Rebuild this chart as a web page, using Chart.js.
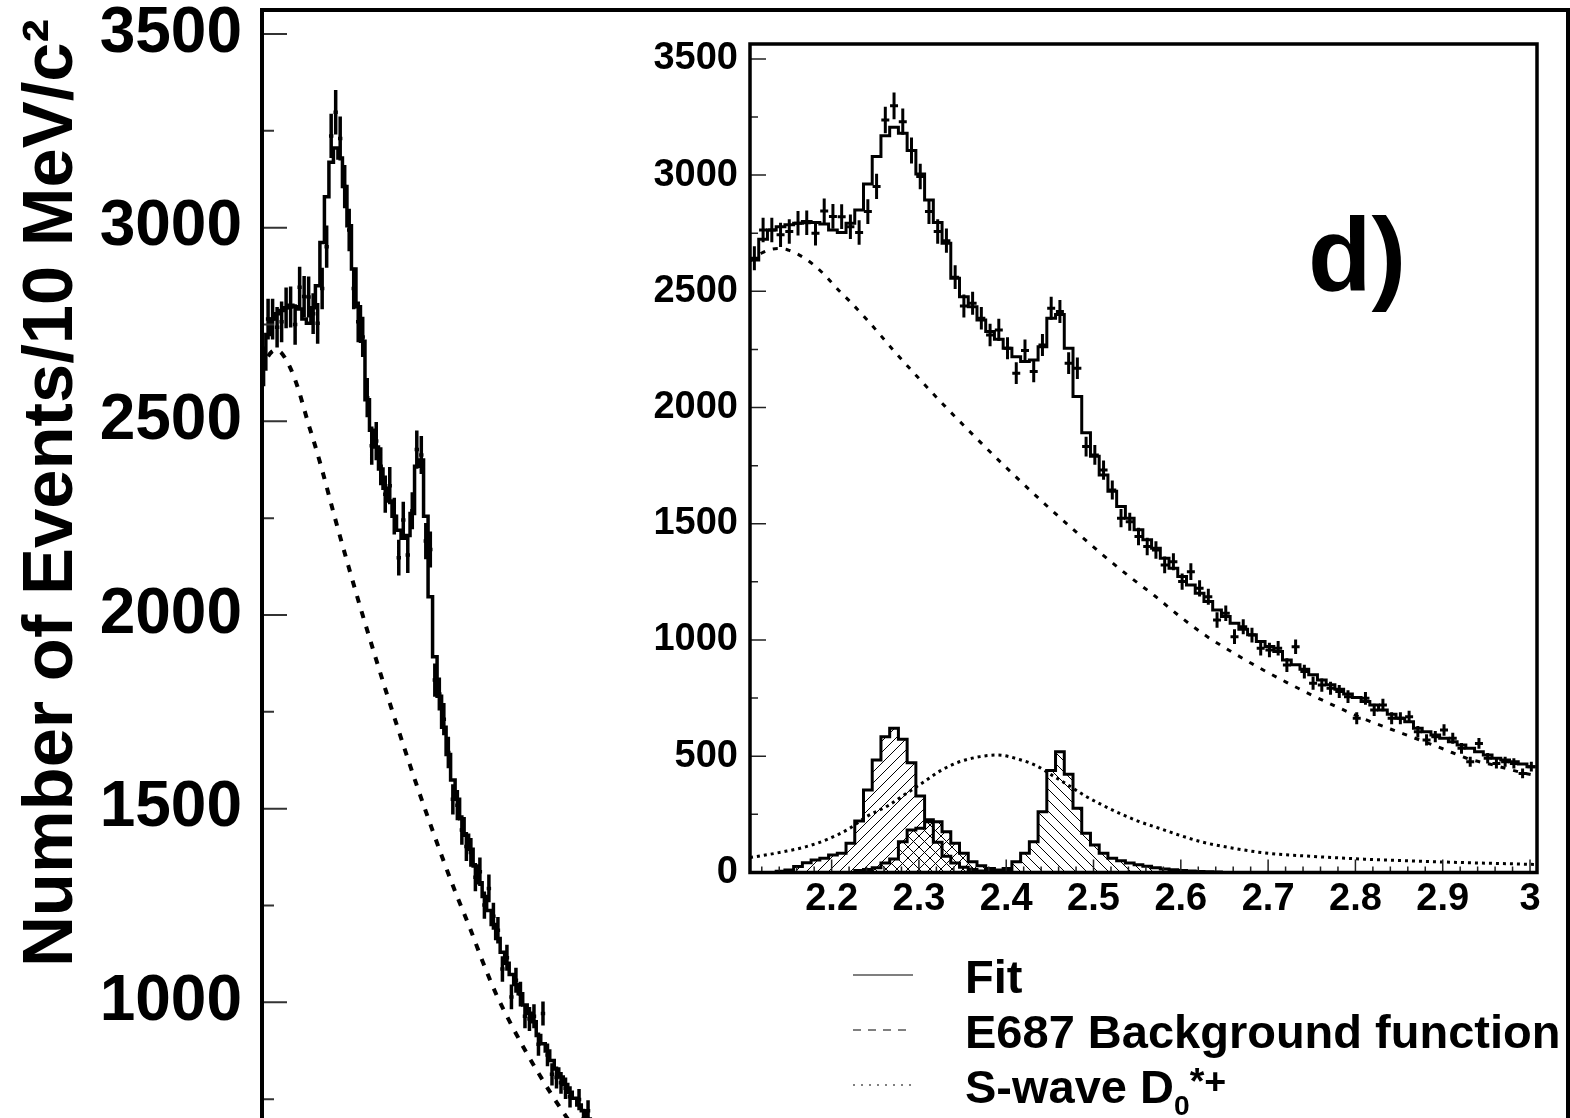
<!DOCTYPE html>
<html><head><meta charset="utf-8">
<script src="https://cdn.jsdelivr.net/npm/chart.js@4.4.1/dist/chart.umd.min.js"></script>
<style>
html,body{margin:0;padding:0;background:#fff;width:1570px;height:1118px;overflow:hidden;}
#main{position:absolute;left:0;top:0;}
#inset{position:absolute;left:600px;top:0;}
.lbl{position:absolute;font-family:'Liberation Sans',Arial,sans-serif;font-weight:bold;color:#000;white-space:nowrap;line-height:1;}
</style></head><body>
<canvas id="main" width="1570" height="1118"></canvas>
<canvas id="inset" width="970" height="960"></canvas>
<div class="lbl" style="left:1308px;top:202px;font-size:104px;">d)</div>
<svg style="position:absolute;left:0;top:0" width="1570" height="1118">
  <line x1="853" y1="975" x2="913" y2="975" stroke="#000" stroke-width="1.2"/>
  <line x1="853" y1="1030" x2="913" y2="1030" stroke="#000" stroke-width="1.2" stroke-dasharray="8,7"/>
  <line x1="853" y1="1085" x2="913" y2="1085" stroke="#000" stroke-width="1.2" stroke-dasharray="2,6"/>
</svg>
<div class="lbl" style="left:965px;top:953px;font-size:47px;">Fit</div>
<div class="lbl" style="left:965px;top:1008px;font-size:47px;">E687 Background function</div>
<div class="lbl" style="left:965px;top:1063px;font-size:47px;">S-wave D<sub style="font-size:0.6em;vertical-align:-0.4em">0</sub><sup style="font-size:0.8em;vertical-align:0.25em">*+</sup></div>
<script>
// ---------- data (10 MeV bins) ----------
const binLow = 2.1065;      // lower edge of first bin (GeV/c^2)
const binWidth = 0.01;
const dataCounts = [
 2642,2764,2764,2743,2757,2793,2795,2750,2846,2822,
 2821,2778,2753,2843,2951,3237,3298,3230,3106,2994,
 2843,2757,2718,2561,2437,2449,2384,2312,2334,2255,
 2148,2245,2155,2269,2427,2413,2191,2169,1832,1796,
 1731,1645,1524,1509,1445,1402,1387,1323,1337,1251,
 1294,1222,1186,1086,1115,1014,1057,1021,964,957,
 964,892,971,864,814,806,792,778,756,663,
 749,699,720,663,663,670,605,570,584,613,
 577,534,476,555,491,469,476,469,426,455];
const fitCounts = [
 2635,2724,2764,2778,2786,2793,2800,2796,2790,2764,
 2753,2793,2850,2962,3080,3169,3206,3180,3106,3005,
 2893,2796,2707,2556,2477,2434,2377,2327,2294,2255,
 2219,2198,2205,2262,2384,2400,2255,2047,1892,1790,
 1710,1640,1574,1524,1474,1431,1395,1352,1309,1273,
 1237,1201,1165,1129,1101,1072,1046,1022,993,972,
 950,914,893,874,850,828,807,788,768,752,
 735,720,699,680,663,648,620,605,591,577,
 562,548,534,519,505,491,484,476,466,455];
const bgMass   = [2.1065,2.12,2.13,2.14,2.15,2.16,2.17,2.18,2.19,2.20,2.21,2.22,2.24,2.27,2.30,2.33,2.36,2.39,2.42,2.45,2.48,2.51,2.54,2.57,2.60,2.63,2.66,2.69,2.72,2.75,2.78,2.81,2.84,2.87,2.90,2.93,2.96,2.99,3.008];
const bgCounts = [2630,2665,2680,2684,2678,2662,2640,2612,2578,2538,2497,2460,2380,2250,2125,2005,1890,1778,1670,1565,1465,1368,1276,1190,1098,1015,945,880,820,763,710,660,617,575,532,488,460,430,415];
const swMass   = [2.1065,2.12,2.145,2.17,2.195,2.22,2.24,2.265,2.285,2.305,2.325,2.345,2.37,2.39,2.415,2.435,2.455,2.475,2.49,2.51,2.53,2.55,2.575,2.6,2.625,2.66,2.7,2.75,2.81,2.89,3.008];
const swCounts = [64,72,89,110,142,188,240,288,338,388,438,474,498,505,486,458,412,366,330,290,254,222,190,158,130,104,82,69,57,46,34];
// feed-down / resonance components (start bin index + counts)
const peakAStart = 2;
const peakA = [0,5,10,25,42,53,61,75,82,125,221,355,484,584,620,573,472,329,226,130,70,40,22,12,6,3,0];
const peakBStart = 11;
const peakB = [0,8,12,20,40,58,132,182,190,218,218,175,125,82,46,29,17,8,4,0];
const peakCStart = 25;
const peakC = [0,4,6,10,17,46,82,132,261,438,519,422,276,168,118,82,61,50,40,33,26,20,15,11,8,6,4,3,2,0];

// axes
const mainX = [2.108, 5.006];
const mainY = [701.3, 3562];
const mainYTicks = [1000,1500,2000,2500,3000,3500];
const mainYTitle = 'Number of Events/10 MeV/c²';
const insetX = [2.1065, 3.008];
const insetY = [0, 3564];
const insetYTicks = [0,500,1000,1500,2000,2500,3000,3500];
const insetXTicks = [2.2,2.3,2.4,2.5,2.6,2.7,2.8,2.9,3];

// ---------- helpers ----------
const FONT = "'Liberation Sans', Arial, sans-serif";
const centerPts = arr => arr.map((v,i)=>({x: binLow + binWidth*(i+0.5), y: v}));
const stepPts = (arr, start=0) => {
  const p = arr.map((v,i)=>({x: binLow + binWidth*(start+i), y: v}));
  p.push({x: binLow + binWidth*(start+arr.length), y: arr[arr.length-1]});
  return p;
};
const xyPts = (xs, ys) => xs.map((x,i)=>({x, y: ys[i]}));

function hatch(kind){
  const s = 11, c = document.createElement('canvas');
  c.width = s; c.height = s;
  const g = c.getContext('2d');
  g.strokeStyle = '#000'; g.lineWidth = 1;
  g.beginPath();
  if (kind.includes('/')) { g.moveTo(-1,s+1); g.lineTo(s+1,-1); g.moveTo(-1,1); g.lineTo(1,-1); g.moveTo(s-1,s+1); g.lineTo(s+1,s-1); }
  if (kind.includes('\\')) { g.moveTo(-1,-1); g.lineTo(s+1,s+1); g.moveTo(s-1,-1); g.lineTo(s+1,1); g.moveTo(-1,s-1); g.lineTo(1,s+1); }
  g.stroke();
  return g.createPattern(c,'repeat');
}

const errorBarPlugin = {
  id: 'errorBars',
  afterDatasetsDraw(chart){
    const {ctx, chartArea:a, scales:{x,y}} = chart;
    chart.data.datasets.forEach(ds=>{
      if(!ds.errorBars) return;
      ctx.save();
      ctx.beginPath(); ctx.rect(a.left,a.top,a.right-a.left,a.bottom-a.top); ctx.clip();
      ctx.strokeStyle='#000'; ctx.lineWidth=ds.errorBars.width; ctx.lineCap='butt';
      ctx.beginPath();
      ds.data.forEach(p=>{
        const e = Math.sqrt(p.y);
        const px = x.getPixelForValue(p.x), py = y.getPixelForValue(p.y);
        ctx.moveTo(px, y.getPixelForValue(p.y-e)); ctx.lineTo(px, y.getPixelForValue(p.y+e));
        ctx.moveTo(px-ds.errorBars.half, py); ctx.lineTo(px+ds.errorBars.half, py);
      });
      ctx.stroke();
      ctx.restore();
    });
  }
};

const framePlugin = {
  id: 'frame',
  afterDraw(chart, args, o){
    const {ctx, chartArea:a, scales:{x,y}} = chart;
    ctx.save(); ctx.lineCap='butt';
    ctx.lineWidth = o.tickWidth; ctx.strokeStyle = o.tickColor;
    ctx.beginPath();
    for(let v=o.yMinorStart; v<=y.max; v+=o.yMinorStep){
      const py = y.getPixelForValue(v);
      if(py < a.top || py > a.bottom) continue;
      const major = Math.abs(v/o.yMajorStep - Math.round(v/o.yMajorStep))<1e-6;
      ctx.moveTo(a.left, py); ctx.lineTo(a.left + (major?o.yMajorLen:o.yMinorLen), py);
    }
    if(o.xMinorStep){
      for(let v=o.xMinorStart; v<=x.max+1e-9; v+=o.xMinorStep){
        const px = x.getPixelForValue(v);
        const major = Math.abs(v/o.xMajorStep - Math.round(v/o.xMajorStep))<1e-6;
        ctx.moveTo(px, a.bottom); ctx.lineTo(px, a.bottom - (major?o.xMajorLen:o.xMinorLen));
      }
    }
    ctx.stroke();
    ctx.strokeStyle='#000'; ctx.lineWidth=o.frameWidth;
    ctx.beginPath();
    if(o.full){ ctx.rect(a.left,a.top,a.right-a.left,a.bottom-a.top); }
    else { ctx.moveTo(a.left,a.bottom+5); ctx.lineTo(a.left,a.top); ctx.lineTo(a.right,a.top); ctx.lineTo(a.right,a.bottom+5); }
    ctx.stroke();
    if(o.title){
      ctx.translate(o.title.x, o.title.y); ctx.rotate(-Math.PI/2);
      ctx.font = 'bold ' + o.title.size + 'px ' + FONT;
      ctx.fillStyle = '#000'; ctx.textAlign = 'right'; ctx.textBaseline = 'alphabetic';
      ctx.fillText(o.title.text, 0, 0);
    }
    ctx.restore();
  }
};

const common = {responsive:false, animation:false, devicePixelRatio:1, events:[]};

// ---------- main chart ----------
new Chart(document.getElementById('main'), {
  type:'line',
  data:{datasets:[
    {data:centerPts(dataCounts), showLine:false, pointRadius:0, errorBars:{width:3.5, half:2.2}, order:0},
    {data:stepPts(fitCounts), stepped:'before', borderColor:'#000', borderWidth:3.5, pointRadius:0, fill:false, order:1},
    {data:xyPts(bgMass,bgCounts), borderColor:'#000', borderWidth:4, borderDash:[7,9], pointRadius:0, cubicInterpolationMode:'monotone', fill:false, order:2}
  ]},
  options:{...common,
    layout:{padding:{left:0,top:10,right:2,bottom:0}},
    plugins:{legend:{display:false}, tooltip:{enabled:false},
      frame:{tickWidth:2, tickColor:'#333', yMinorStart:750, yMinorStep:250, yMajorStep:500, yMajorLen:25, yMinorLen:12, frameWidth:4, full:false,
        title:{text:mainYTitle, x:72, y:19, size:70.5}}},
    scales:{
      x:{type:'linear', display:false, min:mainX[0], max:mainX[1]},
      y:{type:'linear', min:mainY[0], max:mainY[1],
        grid:{display:false, drawTicks:false}, border:{display:false},
        afterBuildTicks: ax => { ax.ticks = mainYTicks.map(v=>({value:v})); },
        afterFit: sc => { sc.width = 262; sc.paddingTop = 0; sc.paddingBottom = 0; },
        ticks:{color:'#000', padding:20, autoSkip:false, font:{family:FONT, size:64, weight:'bold'}, callback:v=>String(v)}
      }
    }
  },
  plugins:[errorBarPlugin, framePlugin]
});

// ---------- inset chart ----------
new Chart(document.getElementById('inset'), {
  type:'line',
  data:{datasets:[
    {data:centerPts(dataCounts), showLine:false, pointRadius:0, errorBars:{width:3, half:4}, order:0},
    {data:stepPts(fitCounts), stepped:'before', borderColor:'#000', borderWidth:3, pointRadius:0, fill:false, order:1},
    {data:xyPts(bgMass,bgCounts), borderColor:'#000', borderWidth:3, borderDash:[5,8], pointRadius:0, cubicInterpolationMode:'monotone', fill:false, order:2},
    {data:xyPts(swMass,swCounts), borderColor:'#000', borderWidth:3, borderDash:[3,4], pointRadius:0, cubicInterpolationMode:'monotone', fill:false, order:3},
    {data:stepPts(peakC,peakCStart), stepped:'before', borderColor:'#000', borderWidth:3, pointRadius:0, fill:'origin', backgroundColor:hatch('\\'), order:4},
    {data:stepPts(peakB,peakBStart), stepped:'before', borderColor:'#000', borderWidth:3, pointRadius:0, fill:'origin', backgroundColor:hatch('/\\'), order:5},
    {data:stepPts(peakA,peakAStart), stepped:'before', borderColor:'#000', borderWidth:3, pointRadius:0, fill:'origin', backgroundColor:hatch('/'), order:6}
  ]},
  options:{...common,
    layout:{padding:{left:0,top:44,right:33,bottom:0}},
    plugins:{legend:{display:false}, tooltip:{enabled:false},
      frame:{tickWidth:1.5, tickColor:'#222', yMinorStart:0, yMinorStep:250, yMajorStep:500, yMajorLen:16, yMinorLen:8,
        xMinorStart:2.12, xMinorStep:0.02, xMajorStep:0.1, xMajorLen:13, xMinorLen:6, frameWidth:3.5, full:true}},
    scales:{
      x:{type:'linear', min:insetX[0], max:insetX[1],
        grid:{display:false, drawTicks:false}, border:{display:false},
        afterBuildTicks: ax => { ax.ticks = insetXTicks.map(v=>({value:v})); },
        afterFit: sc => { sc.height = 960-872.4; sc.paddingLeft = 0; sc.paddingRight = 0; },
        ticks:{color:'#000', padding:4, autoSkip:false, maxRotation:0, font:{family:FONT, size:38, weight:'bold'}, callback:v=>String(v)}},
      y:{type:'linear', min:insetY[0], max:insetY[1],
        grid:{display:false, drawTicks:false}, border:{display:false},
        afterBuildTicks: ax => { ax.ticks = insetYTicks.map(v=>({value:v})); },
        afterFit: sc => { sc.width = 150; sc.paddingTop = 0; sc.paddingBottom = 0; },
        ticks:{color:'#000', padding:12, autoSkip:false, font:{family:FONT, size:38, weight:'bold'}, callback:v=>String(v)}}
    }
  },
  plugins:[errorBarPlugin, framePlugin]
});
</script>
</body></html>
